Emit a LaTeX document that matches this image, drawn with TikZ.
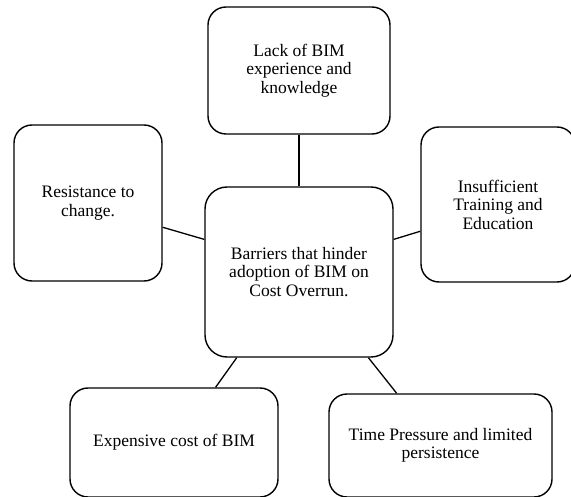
\documentclass[tikz,border=0pt]{standalone}
\usepackage{fontspec}
\setmainfont{Liberation Serif}
\begin{document}
\begin{tikzpicture}[x=1pt,y=-1pt,
  box/.style={draw=black, line width=1.4pt, rounded corners=18pt, fill=white,
    inner sep=0pt, align=center, font=\fontsize{17.5}{18.5}\selectfont},
  link/.style={draw=black, line width=1.3pt}]
\useasboundingbox (0,0) rectangle (571,497);
\fill[white] (0,0) rectangle (571,497);
\node[box, minimum width=188pt, minimum height=170pt, rounded corners=22pt] (c) at (299,272)
  {Barriers that hinder\\adoption of BIM on\\Cost Overrun.};
\node[box, minimum width=182pt, minimum height=127pt] (t) at (299,70.5)
  {Lack of BIM\\experience and\\knowledge};
\node[box, minimum width=148pt, minimum height=156pt] (l) at (88,203)
  {Resistance to\\change.};
\node[box, minimum width=154pt, minimum height=155pt] (r) at (498,204.5)
  {Insufficient\\Training and\\Education};
\node[box, minimum width=208pt, minimum height=109pt] (bl) at (174,442.5)
  {Expensive cost of BIM};
\node[box, minimum width=223pt, minimum height=103pt] (br) at (440.5,445.5)
  {Time Pressure and limited\\persistence};
\draw[link] (t.south) -- (c.north);
\draw[link] (l.-18) -- (c.161);
\draw[link] (c.19) -- (r.199);
\draw[link] (c.234) -- (bl.53);
\draw[link] (c.-51) -- (br.130);
\end{tikzpicture}
\end{document}
